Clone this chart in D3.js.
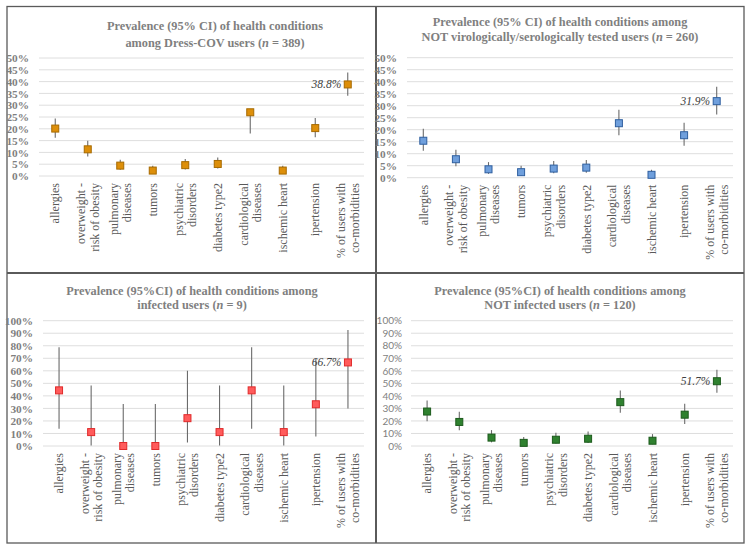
<!DOCTYPE html>
<html><head><meta charset="utf-8">
<script src="https://cdn.jsdelivr.net/npm/d3@7"></script>
<style>body{margin:0;background:#fff}svg{display:block}</style>
</head><body>
<svg id="c" width="755" height="557"></svg>
<script>
// ---- data ----
const categories = [["allergies"],["overweight -","risk of obesity"],["pulmonary","diseases"],["tumors"],["psychiatric","disorders"],["diabetes type2"],["cardiological","diseases"],["ischemic heart"],["ipertension"],["% of users with","co-morbidities"]];

const dressCovValue = [20.1, 11.3, 4.4, 2.3, 4.6, 5.1, 27.0, 2.3, 20.3, 38.8];
const dressCovLow   = [16.2, 8.3, 2.6, 1.1, 2.8, 3.2, 18.0, 1.1, 16.4, 34.0];
const dressCovHigh  = [24.4, 14.9, 6.9, 4.3, 7.2, 7.8, 28.0, 4.3, 24.6, 43.9];

const notTestedValue = [15.4, 7.7, 3.5, 2.3, 3.8, 4.2, 22.7, 1.2, 17.7, 31.9];
const notTestedLow   = [11.2, 4.8, 1.6, 0.9, 1.9, 2.1, 17.7, 0.2, 13.3, 26.3];
const notTestedHigh  = [20.4, 11.6, 6.5, 5.0, 7.0, 7.4, 28.3, 3.3, 22.9, 37.9];

const infectedValue = [44.4, 11.1, 0, 0, 22.2, 11.1, 44.4, 11.1, 33.3, 66.7];
const infectedLow   = [13.7, 0.3, 0, 0, 2.8, 0.3, 13.7, 0.3, 7.5, 29.9];
const infectedHigh  = [78.8, 48.2, 33.6, 33.6, 60.0, 48.2, 78.8, 48.2, 70.1, 92.5];

const notInfectedValue = [27.5, 19.2, 6.7, 2.5, 5.0, 5.8, 35.0, 4.2, 25.0, 51.7];
const notInfectedLow   = [19.7, 12.6, 2.9, 0.5, 1.9, 2.4, 26.5, 1.4, 17.6, 42.4];
const notInfectedHigh  = [36.4, 27.3, 12.7, 7.1, 10.6, 11.6, 44.2, 9.5, 33.7, 60.9];

const topTicks = [0,5,10,15,20,25,30,35,40,45,50];
const bottomTicks = [0,10,20,30,40,50,60,70,80,90,100];

const titles = [
  [["Prevalence (95% CI) of health conditions"],["among Dress-COV users (","n"," = 389)"]],
  [["Prevalence (95% CI) of health conditions among"],["NOT virologically/serologically tested users (","n"," = 260)"]],
  [["Prevalence (95%CI) of health conditions among"],["infected users (","n"," = 9)"]],
  [["Prevalence (95%CI) of health conditions among"],["NOT infected users (","n"," = 120)"]]
];

// ---- layout ----
const panels = [
  {value:dressCovValue, low:dressCovLow, high:dressCovHigh, ticks:topTicks, max:50,
   left:39, right:364, y0:176, yTop:58, tx:215, ty:[30,47], fill:"#dd8f0a", stroke:"#a66a00", ySans:false, lblX:29},
  {value:notTestedValue, low:notTestedLow, high:notTestedHigh, ticks:topTicks, max:50,
   left:407, right:733, y0:177.7, yTop:57.7, tx:560, ty:[26,40.5], fill:"#6f9fdc", stroke:"#2f5f9f", ySans:false, lblX:397},
  {value:infectedValue, low:infectedLow, high:infectedHigh, ticks:bottomTicks, max:100,
   left:43, right:364, y0:446, yTop:320.7, tx:192, ty:[294.5,309], fill:"#ff5b5b", stroke:"#e02a2a", ySans:false, lblX:33},
  {value:notInfectedValue, low:notInfectedLow, high:notInfectedHigh, ticks:bottomTicks, max:100,
   left:411, right:733, y0:446, yTop:320.7, tx:560, ty:[294.5,309], fill:"#2f812f", stroke:"#1c5a1c", ySans:true, lblX:402}
];

const svg = d3.select("#c");
const serif = "'Liberation Serif','Times New Roman',serif";

// borders
const bx = [7, 376, 744], by = [6.5, 273, 543];
svg.append("rect").attr("x",bx[0]).attr("y",by[0]).attr("width",bx[2]-bx[0]).attr("height",by[2]-by[0])
  .attr("fill","none").attr("stroke","#5a5a5a").attr("stroke-width",1.3);
svg.append("line").attr("x1",bx[1]).attr("x2",bx[1]).attr("y1",by[0]).attr("y2",by[2]).attr("stroke","#5a5a5a").attr("stroke-width",2);
svg.append("line").attr("x1",bx[0]).attr("x2",bx[2]).attr("y1",by[1]).attr("y2",by[1]).attr("stroke","#5a5a5a").attr("stroke-width",2);

panels.forEach((p, pi) => {
  const g = svg.append("g");
  const x = d3.scaleBand().domain(d3.range(categories.length)).range([p.left, p.right]);
  const y = d3.scaleLinear().domain([0, p.max]).range([p.y0, p.yTop]);

  // grid
  g.selectAll("line.grid").data(p.ticks).join("line")
    .attr("x1", p.left).attr("x2", p.right)
    .attr("y1", d => y(d)).attr("y2", d => y(d))
    .attr("stroke", "#dedede").attr("stroke-width", 1);

  // y axis labels via d3 axis
  const ax = d3.axisLeft(y).tickValues(p.ticks).tickFormat(d => d + "%").tickSize(0).tickPadding(p.left - p.lblX);
  const ag = g.append("g").attr("transform", `translate(${p.left},0)`).call(ax);
  ag.select(".domain").remove();
  ag.selectAll("text")
    .attr("fill", "#7f7f7f")
    .style("font-family", p.ySans ? "Lato,'Liberation Sans',sans-serif" : serif)
    .style("font-weight", p.ySans ? "normal" : "bold")
    .style("font-size", p.ySans ? "10px" : "11.3px");

  // x labels
  const xl = g.selectAll("g.xl").data(categories).join("g")
    .attr("transform", (d, i) => `translate(${x(i) + x.bandwidth()/2},${p.y0 + 7}) rotate(-90)`);
  xl.each(function(lines) {
    const n = lines.length;
    const t = d3.select(this).append("text").attr("text-anchor", "end")
      .attr("fill", "#595959").style("font-family", serif).style("font-size", "12px");
    lines.forEach((ln, k) => {
      t.append("tspan").attr("x", 0).attr("y", (k - (n - 1) / 2) * 13.5).attr("dy", "0.35em").text(ln);
    });
  });

  // error bars
  g.selectAll("line.err").data(p.value).join("line")
    .attr("x1", (d, i) => x(i) + x.bandwidth()/2).attr("x2", (d, i) => x(i) + x.bandwidth()/2)
    .attr("y1", (d, i) => y(p.low[i])).attr("y2", (d, i) => y(p.high[i]))
    .attr("stroke", "#6b6b6b").attr("stroke-width", 1.1);

  // markers
  const ms = 7;
  g.selectAll("rect.m").data(p.value).join("rect")
    .attr("x", (d, i) => x(i) + x.bandwidth()/2 - ms/2)
    .attr("y", d => y(d) - ms/2)
    .attr("width", ms).attr("height", ms)
    .attr("fill", p.fill).attr("stroke", p.stroke).attr("stroke-width", 1);

  // label on last point
  const li = categories.length - 1;
  g.append("text")
    .attr("x", x(li) + x.bandwidth()/2 - ms/2 - 3)
    .attr("y", y(p.value[li]))
    .attr("dy", "0.35em").attr("text-anchor", "end")
    .attr("fill", "#404040").style("font-family", serif).style("font-style", "italic").style("font-size", "11.5px")
    .text(p.value[li].toFixed(1) + "%");

  // title
  titles[pi].forEach((line, k) => {
    const t = g.append("text").attr("x", p.tx).attr("y", p.ty[k]).attr("text-anchor", "middle")
      .attr("fill", "#7f7f7f").style("font-family", serif).style("font-weight", "bold").style("font-size", "12.3px");
    line.forEach((seg, j) => {
      const ts = t.append("tspan").text(seg);
      if (j === 1) ts.style("font-style", "italic");
    });
  });
});
</script>
</body></html>
